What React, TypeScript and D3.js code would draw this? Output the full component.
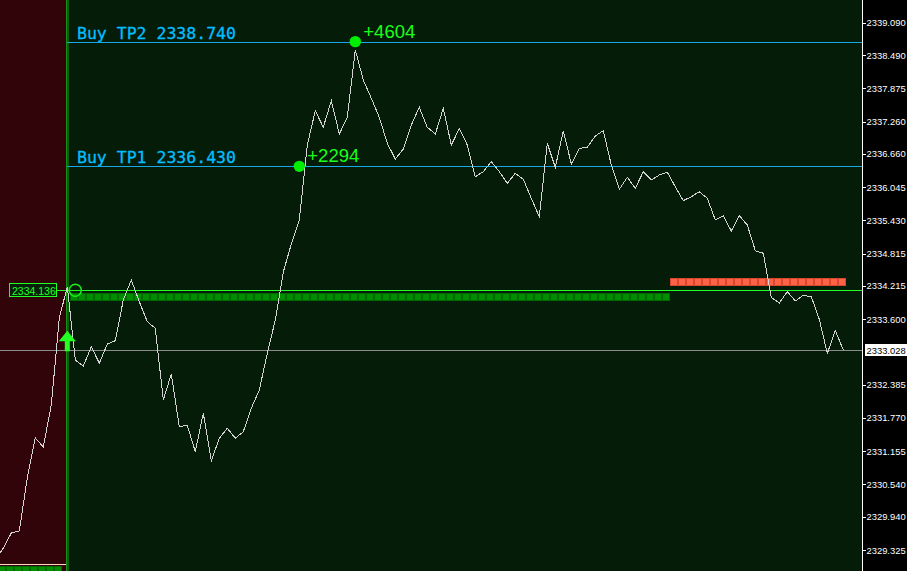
import React from "react";
import * as d3 from "d3";

const W = 907;
const H = 571;

// ---- data ----
const firstBar = -9;
const closes = [
  2329.14, 2329.362, 2329.64, 2329.677, 2330.659, 2331.399, 2331.233, 2332.01, 2333.621,
  2334.201, 2332.844, 2332.733, 2333.09, 2332.783, 2333.14, 2333.201, 2333.955, 2334.325,
  2333.923, 2333.553, 2333.431, 2332.103, 2332.584, 2331.609, 2331.634, 2331.146, 2331.857,
  2330.979, 2331.394, 2331.579, 2331.394, 2331.516, 2331.949, 2332.288, 2332.968, 2333.584,
  2334.473, 2334.992, 2335.436, 2336.825, 2337.46, 2337.153, 2337.646, 2337.029, 2337.338,
  2338.584, 2338.029, 2337.69, 2337.338, 2336.857, 2336.566, 2336.751, 2337.196, 2337.523,
  2337.153, 2337.029, 2337.505, 2336.825, 2337.127, 2336.825, 2336.238, 2336.331, 2336.516,
  2336.331, 2336.116, 2336.301, 2336.19, 2335.838, 2335.497, 2336.857, 2336.412, 2337.09,
  2336.473, 2336.764, 2336.783, 2336.992, 2337.09, 2336.455, 2336.005, 2336.227, 2336.023,
  2336.331, 2336.177, 2336.27, 2336.32, 2336.053, 2335.794, 2335.868, 2335.96, 2335.838,
  2335.436, 2335.51, 2335.233, 2335.516, 2335.344, 2334.868, 2334.82, 2334.001, 2333.899,
  2334.112, 2333.936, 2334.042, 2334.016, 2333.597, 2332.964, 2333.39, 2333.028,
];
const axisTicks = [
  2339.09, 2338.49, 2337.875, 2337.26, 2336.66, 2336.045, 2335.43, 2334.815, 2334.215,
  2333.6, 2332.385, 2331.77, 2331.155, 2330.54, 2329.94, 2329.325,
];
const entryPrice = 2334.136;
const entryBar = 0;
const currentPrice = 2333.028;
const prevLevel = 2329.066;
const tpNames = ["Buy TP1", "Buy TP2"];
const tpPrices = [2336.43, 2338.74];
const tpBars = [29, 36];
const tpPoints = ["+2294", "+4604"];
const greenBars = [0, 74];
const redBars = [75, 96];
const prevGreenBars = [-9, -2];

// ---- scales ----
const x = d3.scaleLinear().domain([0, 97]).range([67.3, 843.3]);
const y = d3.scaleLinear().domain([2339.09, 2329.325]).range([22.7, 550]);

const AXIS_X = 862;
const SPLIT_X = 66;

export default function App() {
  const pts: [number, number][] = closes.map((c, i) => [firstBar + i, c]);
  const line = d3
    .line<[number, number]>()
    .x((d) => x(d[0]))
    .y((d) => y(d[1]));

  const range = (a: number, b: number) => d3.range(a, b + 1);
  const yEntry = y(entryPrice);
  const yPrev = y(prevLevel);
  const yCur = y(currentPrice);

  const ex = x(entryBar);
  const arrowTop = yEntry + 40.5;
  const arrowPath = `M${ex},${arrowTop} L${ex + 8.5},${arrowTop + 10.5} L${ex + 2.5},${arrowTop + 10.5} L${ex + 2.5},${arrowTop + 20.5} L${ex - 2.5},${arrowTop + 20.5} L${ex - 2.5},${arrowTop + 10.5} L${ex - 8.5},${arrowTop + 10.5} Z`;

  const axisFont = "'Liberation Sans', Arial, sans-serif";

  return (
    <svg
      width={W}
      height={H}
      style={{ position: "fixed", left: 0, top: 0, display: "block" }}
    >
      {/* backgrounds */}
      <rect x={0} y={0} width={W} height={H} fill="#000000" />
      <rect x={0} y={0} width={SPLIT_X} height={H} fill="#300409" />
      <rect x={SPLIT_X} y={0} width={AXIS_X - SPLIT_X} height={H} fill="#051c09" />
      <rect x={SPLIT_X} y={0} width={1} height={H} fill="#17901a" />
      <rect x={SPLIT_X + 1} y={0} width={2} height={H} fill="#0b5c0d" />

      {/* previous trade level bottom-left */}
      <line x1={0} x2={SPLIT_X} y1={yPrev + 0.5} y2={yPrev + 0.5} stroke="#ffd8c8" strokeWidth={1} />
      {range(prevGreenBars[0], prevGreenBars[1]).map((k) => (
        <rect key={"pg" + k} x={x(k) + 2.7} y={yPrev + 3} width={7} height={8} fill="#008e00" stroke="#006a00" strokeWidth={1} shapeRendering="crispEdges" />
      ))}

      {/* green bar row */}
      {range(greenBars[0], greenBars[1]).map((k) => (
        <rect key={"g" + k} x={x(k) + 2.7} y={Math.round(yEntry) + 3} width={7} height={7} fill="#008e00" stroke="#006a00" strokeWidth={1} shapeRendering="crispEdges" />
      ))}
      {/* red bar row */}
      {range(redBars[0], redBars[1]).map((k) => (
        <rect key={"r" + k} x={x(k) + 2.7} y={Math.round(yEntry) - 12} width={7} height={7} fill="#ff6347" stroke="#d8482e" strokeWidth={1} shapeRendering="crispEdges" />
      ))}

      {/* current price line */}
      <line x1={0} x2={AXIS_X} y1={Math.round(yCur) + 0.5} y2={Math.round(yCur) + 0.5} stroke="#8c8c8c" strokeWidth={1} />

      {/* TP lines */}
      {tpPrices.map((p, i) => (
        <line key={"tpl" + i} x1={SPLIT_X + 1} x2={AXIS_X} y1={Math.round(y(p)) + 0.5} y2={Math.round(y(p)) + 0.5} stroke="#18a8e6" strokeWidth={1} />
      ))}

      {/* entry line */}
      <line x1={57} x2={AXIS_X} y1={Math.round(yEntry) + 0.5} y2={Math.round(yEntry) + 0.5} stroke="#22ff22" strokeWidth={1} />

      {/* price line */}
      <path d={line(pts) || ""} fill="none" stroke="#d4d4d4" strokeWidth={1} shapeRendering="crispEdges" />

      {/* TP labels */}
      {tpPrices.map((p, i) => (
        <text key={"tpt" + i} x={77} y={y(p) - 3} fill="#00bfff" fontFamily="'DejaVu Sans Mono', 'Liberation Mono', monospace" fontSize={16.5} stroke="#00bfff" strokeWidth={0.3}>
          {`${tpNames[i]} ${p.toFixed(3)}`}
        </text>
      ))}

      {/* TP hit dots and points */}
      {tpPrices.map((p, i) => (
        <g key={"tpd" + i}>
          <circle cx={x(tpBars[i])} cy={y(p)} r={5.7} fill="#00ee00" />
          <text x={x(tpBars[i]) + 8} y={y(p) - 4} fill="#1aff1a" fontFamily="'Liberation Sans', Arial, sans-serif" fontSize={18.5}>
            {tpPoints[i]}
          </text>
        </g>
      ))}

      {/* entry circle */}
      <circle cx={x(entryBar + 1)} cy={yEntry} r={6} fill="none" stroke="#1aee1a" strokeWidth={1.5} />

      {/* entry arrow */}
      <path d={arrowPath} fill="#22ff22" />

      {/* entry price label */}
      <rect x={9.5} y={Math.round(yEntry) - 6.5} width={47} height={13} fill="#06200a" stroke="#22ff22" strokeWidth={1} />
      <text x={12} y={Math.round(yEntry) + 4.5} fill="#22ff22" fontFamily={axisFont} fontSize={10.5}>
        {entryPrice.toFixed(3)}
      </text>

      {/* right axis */}
      <line x1={AXIS_X + 0.5} x2={AXIS_X + 0.5} y1={0} y2={H} stroke="#ffffff" strokeWidth={1} />
      {axisTicks.map((t) => (
        <g key={"tk" + t}>
          <line x1={AXIS_X} x2={AXIS_X + 4} y1={Math.round(y(t)) + 0.5} y2={Math.round(y(t)) + 0.5} stroke="#ffffff" strokeWidth={1} />
          <text x={866.5} y={y(t) + 3.5} fill="#ffffff" fontFamily={axisFont} fontSize={9.4}>
            {t.toFixed(3)}
          </text>
        </g>
      ))}
      {/* current price tag */}
      <rect x={865} y={Math.round(yCur) - 6} width={42} height={12} fill="#ffffff" />
      <text x={866.5} y={yCur + 3.5} fill="#000000" fontFamily={axisFont} fontSize={9.4}>
        {currentPrice.toFixed(3)}
      </text>
    </svg>
  );
}
